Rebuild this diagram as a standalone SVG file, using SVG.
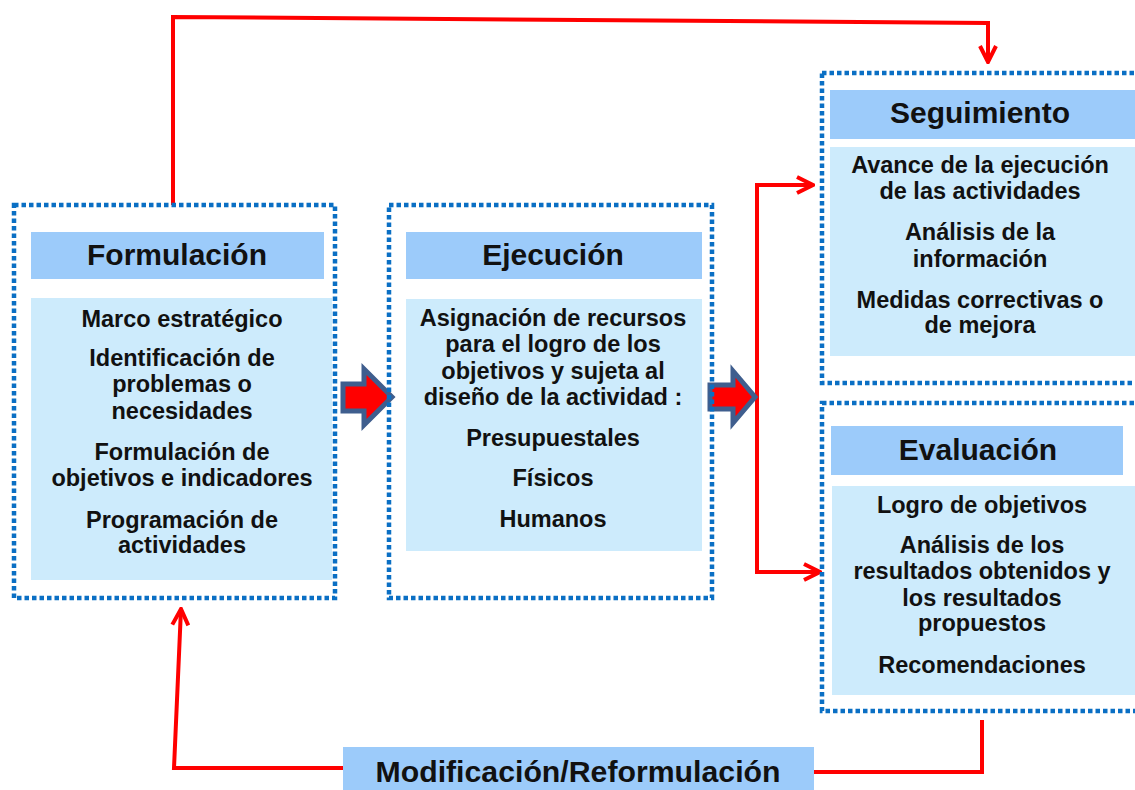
<svg xmlns="http://www.w3.org/2000/svg" width="1135" height="790" viewBox="0 0 1135 790">
<style>
.frame{fill:none;stroke:#0A6FC4;stroke-width:4.5;stroke-dasharray:4.5 3}
.hdr{fill:#9CCBFA}
.body{fill:#CDEBFC}
.ht{font-family:"Liberation Sans",Arial,sans-serif;font-weight:bold;font-size:30px;fill:#111;text-anchor:middle}
.bt{font-family:"Liberation Sans",Arial,sans-serif;font-weight:bold;font-size:23.5px;fill:#111;text-anchor:middle}
.red{fill:none;stroke:#FF0000;stroke-width:4;stroke-linejoin:miter}
.blk{fill:#FF0000;stroke:#3F5E8E;stroke-width:5;stroke-linejoin:miter}
</style>
<defs>
<marker id="ah" viewBox="0 0 20 20" refX="18" refY="10" markerWidth="20" markerHeight="20" markerUnits="userSpaceOnUse" orient="auto">
<path d="M2,2 L18,10 L2,18" fill="none" stroke="#FF0000" stroke-width="4"/>
</marker>
</defs>
<rect width="1135" height="790" fill="#FFFFFF"/>

<g id="connectors">
<path class="red" d="M173,205 L173,17 L988,23 L988,62" marker-end="url(#ah)"/>
<path class="red" d="M813,185 L757,185 L757,572 L820,572" marker-end="url(#ah)"/>
<path class="red" d="M757,185 L813,185" marker-end="url(#ah)"/>
<path class="red" d="M982,720 L982,772 L814,772"/>
<path class="red" d="M343,768 L174,768 L181,609" marker-end="url(#ah)"/>
<polygon class="blk" points="343,384 364,384 364,369 392,397 364,425 364,411 343,411"/>
<polygon class="blk" points="710,385 733,385 733,371 755,397 733,423 733,409 710,409"/>
</g>

<g id="formulacion">
<rect class="frame" x="14" y="205" width="321" height="393"/>
<rect class="hdr" x="31" y="232" width="293" height="47"/>
<rect class="body" x="31" y="298" width="301" height="282"/>
<text class="ht" x="177" y="265">Formulación</text>
<text class="bt" x="182" y="327">Marco estratégico</text>
<text class="bt" x="182" y="366">Identificación de</text>
<text class="bt" x="182" y="392">problemas o</text>
<text class="bt" x="182" y="419">necesidades</text>
<text class="bt" x="182" y="460">Formulación de</text>
<text class="bt" x="182" y="486">objetivos e indicadores</text>
<text class="bt" x="182" y="528">Programación de</text>
<text class="bt" x="182" y="553">actividades</text>
</g>

<g id="ejecucion">
<rect class="frame" x="389" y="205" width="323" height="393"/>
<rect class="hdr" x="406" y="232" width="296" height="47"/>
<rect class="body" x="406" y="299" width="296" height="252"/>
<text class="ht" x="553" y="265">Ejecución</text>
<text class="bt" x="553" y="326">Asignación de recursos</text>
<text class="bt" x="553" y="352">para el logro de los</text>
<text class="bt" x="553" y="379">objetivos y sujeta al</text>
<text class="bt" x="553" y="405">diseño de la actividad :</text>
<text class="bt" x="553" y="446">Presupuestales</text>
<text class="bt" x="553" y="486">Físicos</text>
<text class="bt" x="553" y="527">Humanos</text>
</g>

<g id="seguimiento">
<rect class="frame" x="822" y="73" width="330" height="310"/>
<rect class="hdr" x="830" y="90" width="305" height="49"/>
<rect class="body" x="830" y="147" width="305" height="209"/>
<text class="ht" x="980" y="123">Seguimiento</text>
<text class="bt" x="980" y="173">Avance de la ejecución</text>
<text class="bt" x="980" y="199">de las actividades</text>
<text class="bt" x="980" y="240">Análisis de la</text>
<text class="bt" x="980" y="267">información</text>
<text class="bt" x="980" y="308">Medidas correctivas o</text>
<text class="bt" x="980" y="333">de mejora</text>
</g>

<g id="evaluacion">
<rect class="frame" x="822" y="403" width="330" height="308"/>
<rect class="hdr" x="831" y="426" width="292" height="49"/>
<rect class="body" x="832" y="486" width="303" height="209"/>
<text class="ht" x="978" y="460">Evaluación</text>
<text class="bt" x="982" y="513">Logro de objetivos</text>
<text class="bt" x="982" y="553">Análisis de los</text>
<text class="bt" x="982" y="579">resultados obtenidos y</text>
<text class="bt" x="982" y="606">los resultados</text>
<text class="bt" x="982" y="631">propuestos</text>
<text class="bt" x="982" y="673">Recomendaciones</text>
</g>

<g id="modificacion">
<rect class="hdr" x="343" y="747" width="471" height="43"/>
<text class="ht" x="578" y="782" textLength="405" lengthAdjust="spacingAndGlyphs">Modificación/Reformulación</text>
</g>
</svg>
